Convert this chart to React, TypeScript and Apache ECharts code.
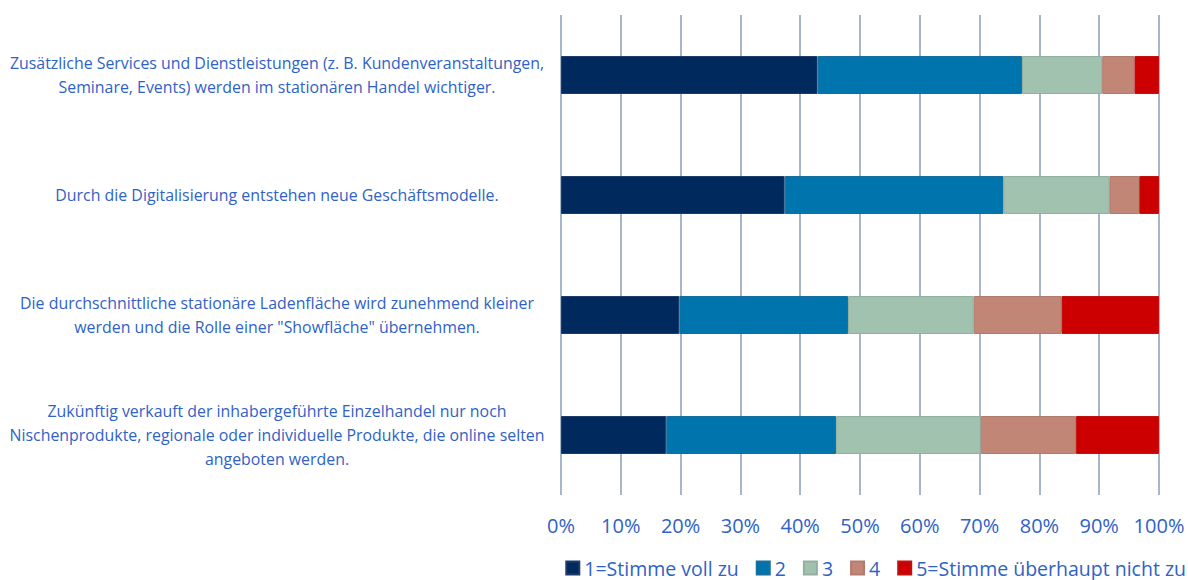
import React, { useEffect, useRef } from "react";
import * as echarts from "echarts";

const categories = [
  "Zusätzliche Services und Dienstleistungen (z. B. Kundenveranstaltungen,\nSeminare, Events) werden im stationären Handel wichtiger.",
  "Durch die Digitalisierung entstehen neue Geschäftsmodelle.",
  "Die durchschnittliche stationäre Ladenfläche wird zunehmend kleiner\nwerden und die Rolle einer \"Showfläche\" übernehmen.",
  "Zukünftig verkauft der inhabergeführte Einzelhandel nur noch\nNischenprodukte, regionale oder individuelle Produkte, die online selten\nangeboten werden.",
];

const seriesNames = ["1=Stimme voll zu", "2", "3", "4", "5=Stimme überhaupt nicht zu"];
const s1 = [42.9, 37.4, 19.8, 17.6];
const s2 = [34.2, 36.6, 28.2, 28.4];
const s3 = [13.4, 17.7, 21.0, 24.2];
const s4 = [5.4, 5.0, 14.7, 15.9];
const s5 = [4.1, 3.3, 16.3, 13.9];
const seriesValues = [s1, s2, s3, s4, s5];
const colors = ["#00295E", "#0075AD", "#A2C2B0", "#C18676", "#CC0000"];
const borders = ["#1D3C6A", "#1A6E9C", "#93AFA1", "#B07C6E", "#C01010"];

const textBlue = "#2F62C6";
const font = "'Open Sans', 'Noto Sans', sans-serif";

export default function App() {
  const ref = useRef<HTMLDivElement>(null);
  useEffect(() => {
    if (!ref.current) return;
    const chart = echarts.init(ref.current, undefined, { renderer: "svg" });
    chart.setOption({
      animation: false,
      textStyle: { fontFamily: font },
      grid: { left: 561, right: 29, top: 15, bottom: 85, containLabel: false },
      legend: {
        data: seriesNames,
        right: 0,
        top: 558,
        padding: [0, 2, 0, 0],
        itemWidth: 13,
        itemHeight: 13,
        itemGap: 17,
        icon: "rect",
        textStyle: { color: textBlue, fontSize: 19.5, lineHeight: 20, fontFamily: font },
      },
      xAxis: {
        type: "value",
        min: 0,
        max: 100,
        interval: 10,
        axisLine: { show: false },
        axisTick: { show: false },
        splitLine: { show: true, lineStyle: { color: "#A9B5C9", width: 2 } },
        axisLabel: {
          formatter: "{value}%",
          color: textBlue,
          fontSize: 20,
          margin: 20,
          fontFamily: font,
        },
      },
      yAxis: {
        type: "category",
        data: categories,
        inverse: true,
        axisLine: { show: false },
        axisTick: { show: false },
        axisLabel: {
          color: textBlue,
          fontSize: 15.9,
          lineHeight: 24,
          align: "center",
          margin: 284,
          fontFamily: font,
        },
      },
      series: seriesValues.map((vals, i) => ({
        name: seriesNames[i],
        type: "bar",
        stack: "total",
        barWidth: 38,
        data: vals,
        itemStyle: { color: colors[i], borderColor: borders[i], borderWidth: 1 },
      })),
    });
    return () => chart.dispose();
  }, []);
  return <div ref={ref} style={{ width: 1188, height: 580, position: "absolute", left: 0, top: 0 }} />;
}
